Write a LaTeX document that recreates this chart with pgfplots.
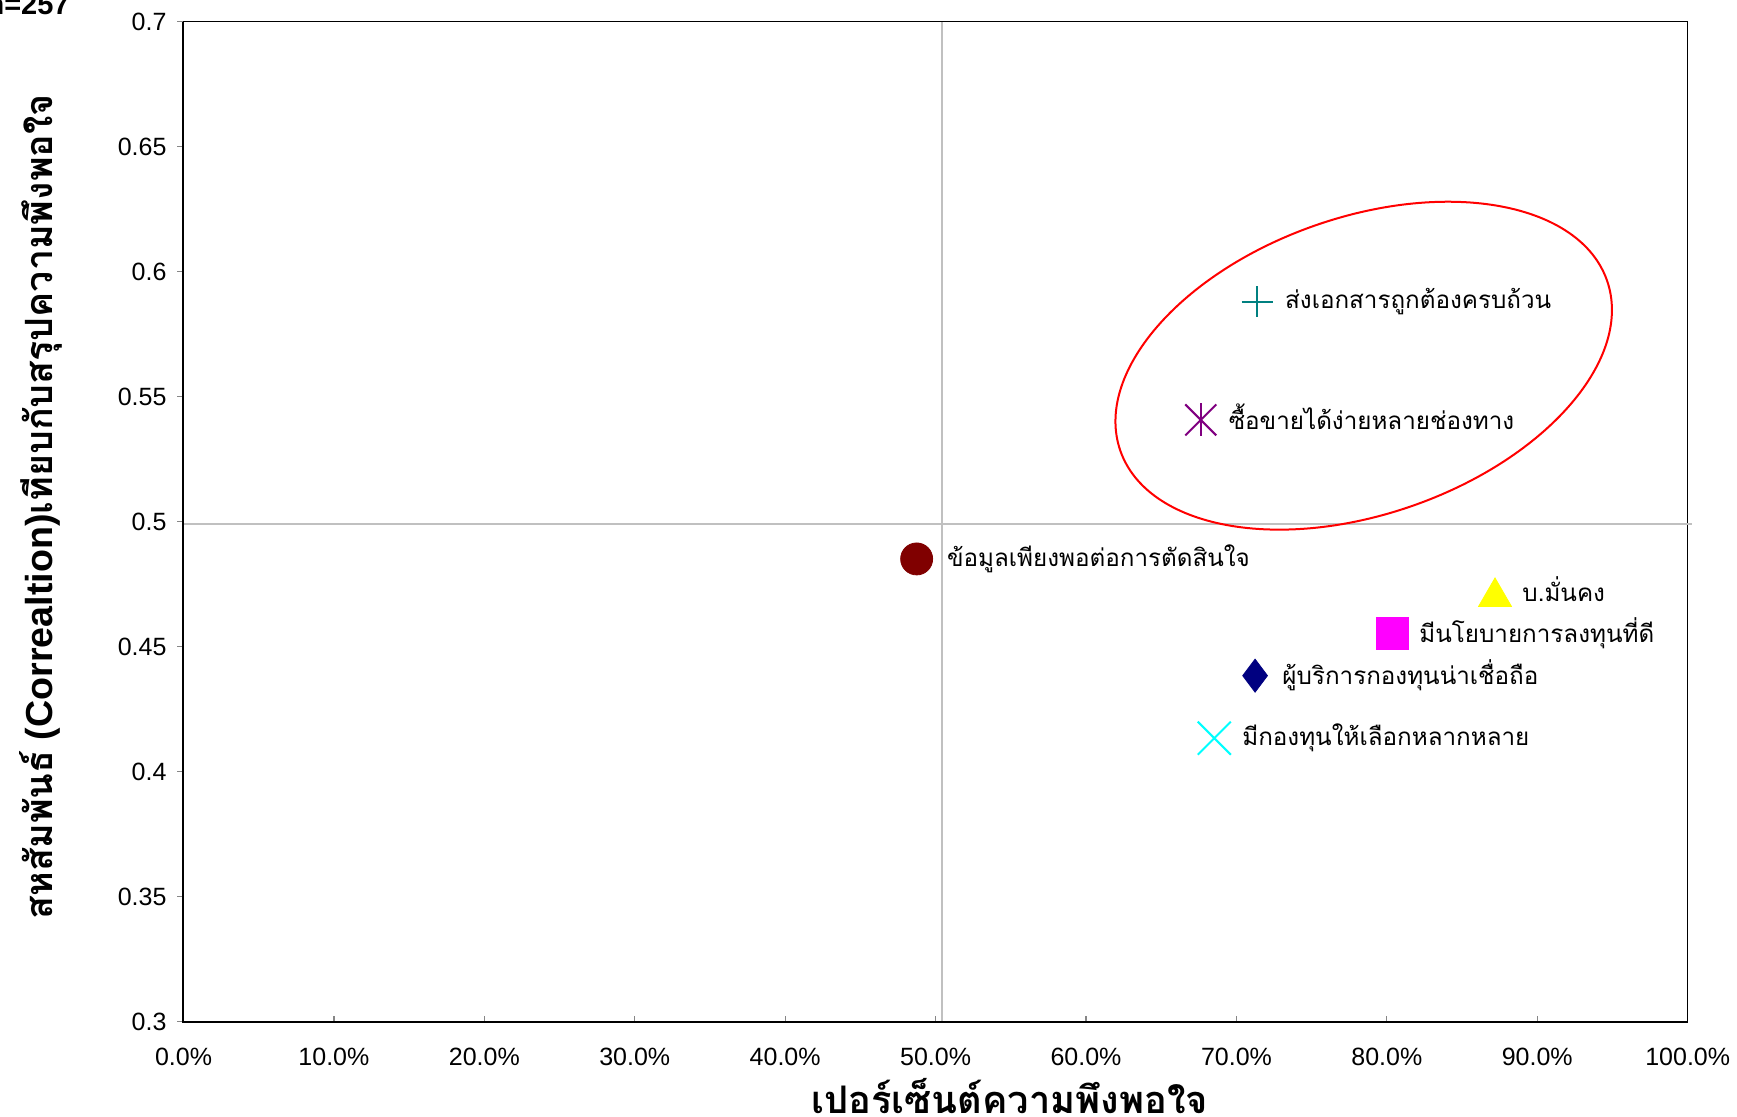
\documentclass[border=0pt]{standalone}
\usepackage{pgfplots}
\pgfplotsset{compat=1.18}
\usetikzlibrary{shapes.geometric}
\usepackage{fontspec}
\setmainfont{Liberation Sans}
\newfontfamily\thaifont[Script=Thai]{Loma}
\definecolor{cdarkred}{HTML}{800000}
\definecolor{cteal}{HTML}{008080}
\definecolor{cpurple}{HTML}{800080}
\definecolor{cyellow}{HTML}{FFFF00}
\definecolor{cmagenta}{HTML}{FF00FF}
\definecolor{cnavy}{HTML}{000080}
\definecolor{ccyan}{HTML}{00FFFF}
\definecolor{refgrey}{HTML}{C0C0C0}
\begin{document}
\begin{tikzpicture}
\begin{axis}[
  at={(0,0)}, anchor=south west,
  scale only axis,
  width=752.1pt, height=500pt,
  xmin=0, xmax=100, ymin=0.3, ymax=0.7,
  clip=false,
  axis line style={black, line width=0.5pt},
  xtick={0,10,...,100},
  xticklabels={0.0\%,10.0\%,20.0\%,30.0\%,40.0\%,50.0\%,60.0\%,70.0\%,80.0\%,90.0\%,100.0\%},
  ytick={0.3,0.35,...,0.71},
  yticklabels={0.3,0.35,0.4,0.45,0.5,0.55,0.6,0.65,0.7},
  tick align=inside,
  major tick length=3pt,
  xtick pos=bottom, ytick pos=left,
  every tick/.style={refgrey!70!black, line width=0.6pt},
  every y tick/.style={xshift=-3pt},
  /pgf/number format/assume math mode=true,
  tick label style={font=\fontsize{12.5}{15}\selectfont},
  x tick label style={anchor=center, yshift=-17.5pt},
  y tick label style={anchor=east, xshift=-5pt},
  nodes near coords,
  point meta=explicit symbolic,
  every node near coord/.style={anchor=west, inner sep=0pt, xshift=13.5pt, font=\thaifont\fontsize{12.1}{14}\selectfont, text=black},
]
% reference lines
\addplot[refgrey, line width=1pt, forget plot, nodes near coords={}] coordinates {(50.43,0.3) (50.43,0.7)};
\addplot[refgrey, line width=1pt, forget plot, nodes near coords={}] coordinates {(0,0.499) (100.27,0.499)};
% frame thicker left and bottom
\draw[black, line width=1pt] (rel axis cs:0,1) -- (rel axis cs:0,0) -- (rel axis cs:1,0);
% ellipse
\node[draw=red, line width=1pt, ellipse, inner sep=0pt, minimum width=257.8pt, minimum height=148.4pt, rotate=19.3] at (axis cs:78.46,0.5624) {};
% data
\addplot[only marks, mark=*, mark size=8pt, color=cdarkred, every node near coord/.append style={xshift=1.5pt}] coordinates {(48.74,0.4851) [ข้อมูลเพียงพอต่อการตัดสินใจ]};
\addplot[only marks, mark=+, mark size=7.75pt, color=cteal, line width=1pt] coordinates {(71.38,0.588) [ส่งเอกสารถูกต้องครบถ้วน]};
\addplot[only marks, mark=x, mark size=10.96pt, color=cpurple, line width=1pt, every node near coord/.append style={yshift=1.5pt}] coordinates {(67.63,0.5407) [ซื้อขายได้ง่ายหลายช่องทาง]};
\addplot[only marks, mark=|, mark size=8.25pt, color=cpurple, line width=1pt, nodes near coords={}] coordinates {(67.63,0.5407)};
\addplot[only marks, mark=triangle*, mark size=9.5pt, color=cyellow, every node near coord/.append style={yshift=3.9pt}] coordinates {(87.19,0.4699) [บ.มั่นคง]};
\addplot[only marks, mark=square*, mark size=8pt, color=cmagenta] coordinates {(80.34,0.4552) [มีนโยบายการลงทุนที่ดี]};
\addplot[only marks, mark=diamond*, mark size=8.25pt, color=cnavy] coordinates {(71.24,0.4384) [ผู้บริการกองทุนน่าเชื่อถือ]};
\addplot[only marks, mark=x, mark size=11.7pt, color=ccyan, line width=1pt] coordinates {(68.53,0.4134) [มีกองทุนให้เลือกหลากหลาย]};
\end{axis}
% axis titles
\node[anchor=center, font=\thaifont\bfseries\fontsize{19}{23}\selectfont] at (413.1pt,-37pt) {เปอร์เซ็นต์ความพึงพอใจ};
\node[anchor=center, rotate=90, font=\bfseries\fontsize{18.8}{22}\selectfont] at (-71.25pt,257.45pt) {{\thaifont สหสัมพันธ์} (Correaltion){\thaifont เทียบกับสรุปความพึงพอใจ}};
\node[anchor=base east, inner sep=0pt, font=\bfseries\fontsize{14.5}{17}\selectfont] at (-56.75pt,503.35pt) {n=257};
\pgfresetboundingbox
\path[use as bounding box] (-91.75pt,-47.65pt) rectangle (776.75pt,510.85pt);
\end{tikzpicture}
\end{document}
